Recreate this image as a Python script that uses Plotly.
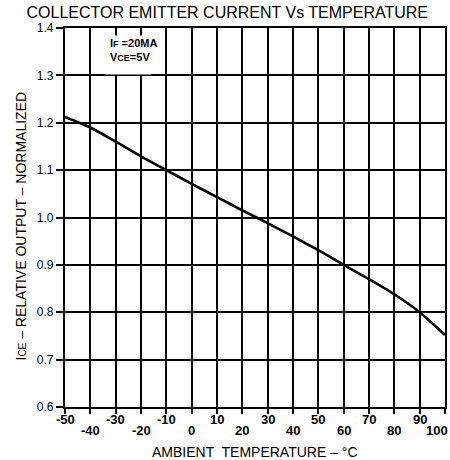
import plotly.graph_objects as go

# Data
temps = [-50, -40, -30, -20, -10, 0, 10, 20, 30, 40, 50, 60, 70, 80, 90, 100]
ice_rel = [1.212, 1.190, 1.160, 1.129, 1.100, 1.071, 1.043, 1.015, 0.988,
           0.960, 0.931, 0.900, 0.870, 0.838, 0.800, 0.752]

x_tick_vals = [-50, -40, -30, -20, -10, 0, 10, 20, 30, 40, 50, 60, 70, 80, 90, 100]
x_tick_labels = ["-50", "-40", "-30", "-20", "-10", "0", "10", "20", "30", "40",
                 "50", "60", "70", "80", "90", "100"]
y_tick_vals = [0.6, 0.7, 0.8, 0.9, 1.0, 1.1, 1.2, 1.3, 1.4]
y_tick_labels = ["0.6", "0.7", "0.8", "0.9", "1.0", "1.1", "1.2", "1.3", "1.4"]

FONT = "Liberation Sans, Arial, sans-serif"

fig = go.Figure()
fig.add_trace(go.Scatter(
    x=temps, y=ice_rel, mode="lines",
    line=dict(color="black", width=2.6, shape="spline", smoothing=0.6),
    hoverinfo="skip", showlegend=False,
))

# staggered x tick labels
annotations = []
for i, (v, t) in enumerate(zip(x_tick_vals, x_tick_labels)):
    lower = (i % 2 == 1)
    a = dict(x=v, y=0, xref="x", yref="paper", text="<b>" + t + "</b>", showarrow=False,
             yanchor="top", xanchor="center",
             yshift=-3 if not lower else -14,
             font=dict(family=FONT, size=13, color="black"))
    if v == 100:
        a["xanchor"] = "right"
        a["xshift"] = 5
    annotations.append(a)

annotations.append(dict(
    x=-33, y=1.385, xref="x", yref="y", xanchor="left", yanchor="top",
    text="<b>I</b><b style='font-size:9px'>F</b><b> =20MA</b><br><b>V</b><b style='font-size:9px'>CE</b><b>=5V</b>",
    showarrow=False, align="left", bgcolor="white",
    font=dict(family=FONT, size=11, color="black"),
))
annotations.append(dict(
    x=0.5, y=0, xref="paper", yref="paper", yanchor="top", xanchor="center",
    yshift=-35, showarrow=False,
    text="AMBIENT  TEMPERATURE – °C",
    font=dict(family=FONT, size=14, color="black"),
))
annotations.append(dict(
    x=0, y=0.5, xref="paper", yref="paper", yanchor="middle", xanchor="center",
    xshift=-45, yshift=-9, textangle=-90, showarrow=False,
    text="I<span style='font-size:10px'>CE</span> – RELATIVE OUTPUT – NORMALIZED",
    font=dict(family=FONT, size=14, color="black"),
))

fig.update_layout(
    width=450, height=460,
    margin=dict(l=65, r=5, t=28, b=53),
    paper_bgcolor="white", plot_bgcolor="white",
    title=dict(text="COLLECTOR EMITTER CURRENT Vs TEMPERATURE",
               x=0.505, xanchor="center", y=0.973, yanchor="middle",
               font=dict(family=FONT, size=16, color="black")),
    annotations=annotations,
    shapes=[
        # white box behind the condition note (hides grid)
        dict(type="rect", xref="x", yref="y", x0=-34, x1=-16, y0=1.302, y1=1.383,
             fillcolor="white", line=dict(width=0), layer="between"),
        # broken gridline at 40 °C
        dict(type="line", xref="x", yref="paper", x0=40, x1=40, y0=0, y1=1,
             line=dict(color="white", width=3, dash="2px,9px"), layer="between"),
    ],
)

fig.update_xaxes(
    range=[-50, 100], tickvals=x_tick_vals, showticklabels=False,
    ticks="outside", ticklen=5, tickwidth=2, tickcolor="black",
    showgrid=True, gridcolor="black", gridwidth=2.2,
    showline=True, linecolor="black", linewidth=2.2, mirror=True,
    zeroline=False, fixedrange=True, automargin=False,
)
fig.update_yaxes(
    range=[0.6, 1.4], tickvals=y_tick_vals, ticktext=y_tick_labels,
    ticks="outside", ticklen=7, tickwidth=2, tickcolor="black",
    tickfont=dict(family=FONT, size=12, color="black"),
    showgrid=True, gridcolor="black", gridwidth=2.2,
    showline=True, linecolor="black", linewidth=2.2, mirror=True,
    zeroline=False, fixedrange=True, automargin=False,
)

fig.write_html("out.html", config={"displayModeBar": False},
               post_script="document.body.style.margin='0';")
